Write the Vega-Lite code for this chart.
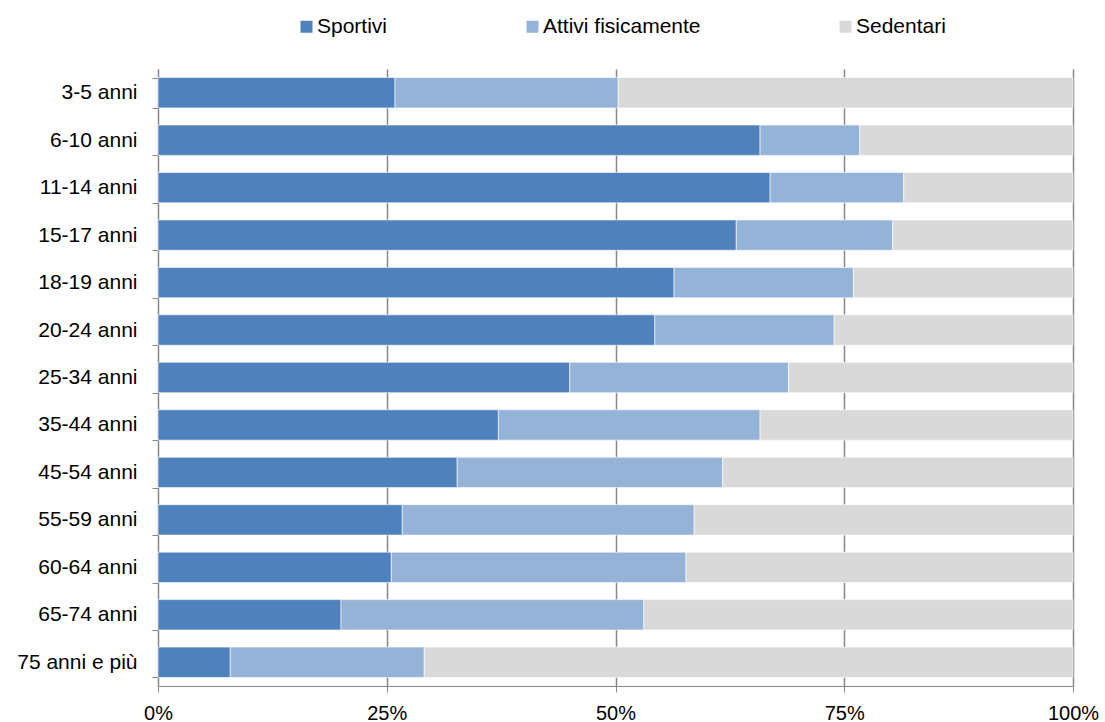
{
  "$schema": "https://vega.github.io/schema/vega-lite/v6.json",
  "width": 915,
  "height": 617,
  "autosize": "none",
  "padding": {"left": 158, "top": 69, "right": 32, "bottom": 36},
  "background": "white",
  "config": {
    "font": "Liberation Sans",
    "view": {"stroke": null}
  },
  "data": {
    "values": [
      {"eta": "3-5 anni", "tipo": "Sportivi", "v": 25.9},
      {"eta": "3-5 anni", "tipo": "Attivi fisicamente", "v": 24.4},
      {"eta": "3-5 anni", "tipo": "Sedentari", "v": 49.7},
      {"eta": "6-10 anni", "tipo": "Sportivi", "v": 65.8},
      {"eta": "6-10 anni", "tipo": "Attivi fisicamente", "v": 10.9},
      {"eta": "6-10 anni", "tipo": "Sedentari", "v": 23.3},
      {"eta": "11-14 anni", "tipo": "Sportivi", "v": 66.9},
      {"eta": "11-14 anni", "tipo": "Attivi fisicamente", "v": 14.6},
      {"eta": "11-14 anni", "tipo": "Sedentari", "v": 18.5},
      {"eta": "15-17 anni", "tipo": "Sportivi", "v": 63.2},
      {"eta": "15-17 anni", "tipo": "Attivi fisicamente", "v": 17.1},
      {"eta": "15-17 anni", "tipo": "Sedentari", "v": 19.7},
      {"eta": "18-19 anni", "tipo": "Sportivi", "v": 56.4},
      {"eta": "18-19 anni", "tipo": "Attivi fisicamente", "v": 19.6},
      {"eta": "18-19 anni", "tipo": "Sedentari", "v": 24.0},
      {"eta": "20-24 anni", "tipo": "Sportivi", "v": 54.3},
      {"eta": "20-24 anni", "tipo": "Attivi fisicamente", "v": 19.6},
      {"eta": "20-24 anni", "tipo": "Sedentari", "v": 26.1},
      {"eta": "25-34 anni", "tipo": "Sportivi", "v": 45.0},
      {"eta": "25-34 anni", "tipo": "Attivi fisicamente", "v": 23.9},
      {"eta": "25-34 anni", "tipo": "Sedentari", "v": 31.1},
      {"eta": "35-44 anni", "tipo": "Sportivi", "v": 37.2},
      {"eta": "35-44 anni", "tipo": "Attivi fisicamente", "v": 28.6},
      {"eta": "35-44 anni", "tipo": "Sedentari", "v": 34.2},
      {"eta": "45-54 anni", "tipo": "Sportivi", "v": 32.7},
      {"eta": "45-54 anni", "tipo": "Attivi fisicamente", "v": 29.0},
      {"eta": "45-54 anni", "tipo": "Sedentari", "v": 38.3},
      {"eta": "55-59 anni", "tipo": "Sportivi", "v": 26.7},
      {"eta": "55-59 anni", "tipo": "Attivi fisicamente", "v": 31.9},
      {"eta": "55-59 anni", "tipo": "Sedentari", "v": 41.4},
      {"eta": "60-64 anni", "tipo": "Sportivi", "v": 25.5},
      {"eta": "60-64 anni", "tipo": "Attivi fisicamente", "v": 32.2},
      {"eta": "60-64 anni", "tipo": "Sedentari", "v": 42.3},
      {"eta": "65-74 anni", "tipo": "Sportivi", "v": 20.0},
      {"eta": "65-74 anni", "tipo": "Attivi fisicamente", "v": 33.1},
      {"eta": "65-74 anni", "tipo": "Sedentari", "v": 46.9},
      {"eta": "75 anni e più", "tipo": "Sportivi", "v": 7.9},
      {"eta": "75 anni e più", "tipo": "Attivi fisicamente", "v": 21.2},
      {"eta": "75 anni e più", "tipo": "Sedentari", "v": 70.9}
    ]
  },
  "transform": [
    {"calculate": "indexof(['Sportivi','Attivi fisicamente','Sedentari'], datum.tipo)", "as": "ord"}
  ],
  "mark": {"type": "bar", "stroke": "white", "strokeWidth": 1, "strokeOpacity": 0.6},
  "encoding": {
    "y": {
      "field": "eta",
      "type": "nominal",
      "sort": null,
      "title": null,
      "scale": {"paddingInner": 0.36, "paddingOuter": 0.18},
      "axis": {
        "domainColor": "#888888",
        "tickColor": "#888888",
        "tickBand": "extent",
        "tickSize": 6,
        "labelFontSize": 21,
        "labelColor": "black",
        "labelPadding": 15,
        "grid": false
      }
    },
    "x": {
      "field": "v",
      "type": "quantitative",
      "stack": "normalize",
      "title": null,
      "scale": {"domain": [0, 1], "nice": false},
      "axis": {
        "format": "%",
        "values": [0, 0.25, 0.5, 0.75, 1],
        "grid": true,
        "gridColor": "#888888",
        "gridWidth": 1.5,
        "domainColor": "#888888",
        "tickColor": "#888888",
        "tickSize": 6,
        "labelFontSize": 20,
        "labelColor": "black",
        "labelPadding": 11,
        "labelFlush": false
      }
    },
    "color": {
      "field": "tipo",
      "type": "nominal",
      "sort": ["Sportivi", "Attivi fisicamente", "Sedentari"],
      "scale": {
        "domain": ["Sportivi", "Attivi fisicamente", "Sedentari"],
        "range": ["#4f81bd", "#95b3d7", "#d9d9d9"]
      },
      "legend": {
        "title": null,
        "orient": "none",
        "legendX": 138,
        "legendY": -53,
        "direction": "horizontal",
        "columns": 3,
        "symbolType": "square",
        "symbolSize": 144,
        "symbolStrokeWidth": 0,
        "labelFontSize": 21,
        "labelColor": "black",
        "labelOffset": 0,
        "columnPadding": 134,
        "labelLimit": 300
      }
    },
    "order": {"field": "ord", "type": "quantitative"}
  }
}
